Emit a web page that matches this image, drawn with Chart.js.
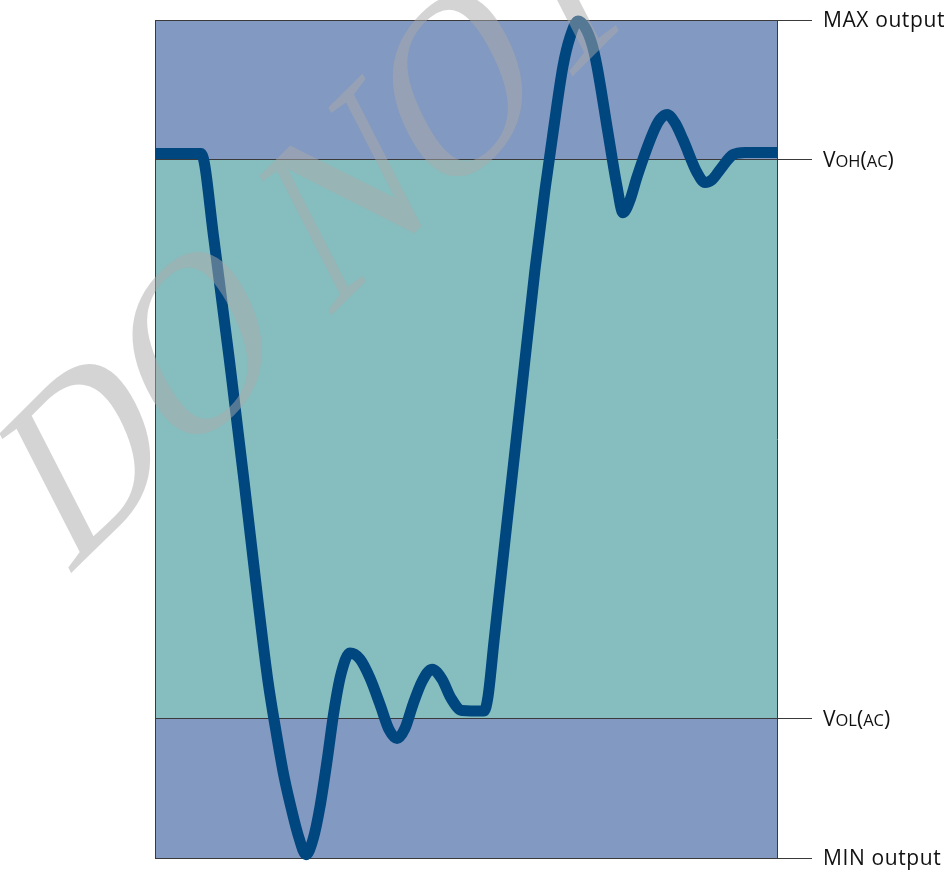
<!DOCTYPE html>
<html>
<head>
<meta charset="utf-8">
<script src="https://cdn.jsdelivr.net/npm/chart.js@4.4.1/dist/chart.umd.min.js"></script>
<style>
  html, body { margin: 0; padding: 0; background: #fff; }
  canvas { display: block; }
</style>
</head>
<body>
<canvas id="myChart" width="951" height="871"></canvas>
<script>
// time in % of the window, output normalised so VOL(AC) = 0 and VOH(AC) = 1
const times = [0, 7.40, 9.49, 12.22, 14.31, 16.56, 18.17, 19.45, 20.74, 22.03,
  23.15, 24.28, 25.40, 26.53, 27.65, 28.78, 29.90, 31.35, 32.96, 34.57,
  36.17, 37.62, 38.91, 40.19, 41.48, 42.93, 44.53, 46.14, 47.59, 49.36,
  52.89, 53.54, 54.50, 56.27, 58.68, 61.09, 62.70, 63.99, 65.59, 66.72,
  68.01, 69.13, 70.26, 71.06, 72.83, 74.28, 75.24, 76.37, 77.49, 80.06,
  81.19, 82.32, 83.60, 84.89, 87.14, 88.42, 89.55, 90.84, 92.93, 94.86,
  100]
const output = [1.011, 1.011, 0.856, 0.618, 0.425, 0.210, 0.066, -0.023, -0.104, -0.167,
  -0.214, -0.244, -0.217, -0.158, -0.077, 0.013, 0.079, 0.117, 0.106, 0.072,
  0.025, -0.020, -0.036, -0.018, 0.025, 0.066, 0.088, 0.070, 0.036, 0.014,
  0.013, 0.039, 0.138, 0.318, 0.560, 0.803, 0.946, 1.048, 1.167, 1.219,
  1.248, 1.237, 1.206, 1.167, 1.048, 0.952, 0.905, 0.928, 0.969, 1.048,
  1.072, 1.081, 1.066, 1.036, 0.977, 0.959, 0.964, 0.982, 1.009, 1.013,
  1.013]

// levels from bottom to top: MIN output, VOL(AC), VOH(AC), MAX output
const levels = [-0.25, 0, 1, 1.25]
const levelLabels = ['MIN output', 'Vol(ac)', 'Voh(ac)', 'MAX output']
const smallCaps = [false, true, true, false]
const bandColors = ['#8299C1', '#86BEBF', '#8299C1']

const wmText = 'DO NOT COPY'

const ctx = document.getElementById('myChart').getContext('2d')

const bands = {
  id: 'bands',
  beforeDraw(chart) {
    const c = chart.ctx
    const a = chart.chartArea
    const y = chart.scales.y
    c.save()
    for (let i = 0; i < bandColors.length; i++) {
      const top = y.getPixelForValue(levels[i + 1])
      const bot = y.getPixelForValue(levels[i])
      c.fillStyle = bandColors[i]
      c.fillRect(a.left, top, a.right - a.left, bot - top)
    }
    c.strokeStyle = '#3a3a3a'
    c.lineWidth = 1
    c.beginPath()
    c.moveTo(a.left + 0.5, a.top)
    c.lineTo(a.left + 0.5, a.bottom)
    c.stroke()
    c.restore()
  }
}

const levelText = {
  id: 'levelText',
  afterDraw(chart) {
    const c = chart.ctx
    const y = chart.scales.y
    const x0 = chart.chartArea.right + 35 + 11
    const big = 21, small = 16.5
    c.save()
    c.fillStyle = '#111'
    c.textAlign = 'left'
    c.textBaseline = 'alphabetic'
    levels.forEach((v, i) => {
      const py = y.getPixelForValue(v) + big * 0.714 / 2
      const txt = levelLabels[i]
      if (!smallCaps[i]) {
        c.font = big + 'px "Open Sans"'
        c.letterSpacing = '0.6px'
        c.fillText(txt, x0, py)
        return
      }
      c.letterSpacing = '0px'
      let x = x0
      for (const ch of txt) {
        const low = ch !== ch.toUpperCase()
        c.font = (low ? small : big) + 'px "Open Sans"'
        const s = ch.toUpperCase()
        c.fillText(s, x, py)
        x += c.measureText(s).width
      }
    })
    c.restore()
  }
}

// diagonal "DO NOT COPY" stamp, rotated then squeezed sideways
const watermark = {
  id: 'watermark',
  afterDraw(chart) {
    const c = chart.ctx
    const size = 262
    c.save()
    c.fillStyle = 'rgba(169,169,169,0.5)'
    c.font = size + 'px "Liberation Serif"'
    c.textAlign = 'left'
    c.textBaseline = 'alphabetic'
    const half = c.measureText('D').width / 2
    c.translate(86, 452)
    c.scale(0.72, 1)
    c.rotate(-35.5 * Math.PI / 180)
    c.fillText(wmText, -half, size * 0.662 / 2)
    c.restore()
  }
}

const data = {
  datasets: [{
    label: 'Output',
    data: times.map((t, i) => ({ x: t, y: output[i] })),
    borderColor: '#00467F',
    backgroundColor: '#00467F',
    borderWidth: 11,
    pointRadius: 0,
    fill: false,
    clip: false,
    cubicInterpolationMode: 'monotone',
    borderJoinStyle: 'round'
  }]
}

const config = {
  type: 'line',
  data: data,
  options: {
    responsive: false,
    animation: false,
    layout: { padding: { left: 155, top: 20, right: 139, bottom: 13 } },
    plugins: { legend: { display: false }, tooltip: { enabled: false } },
    scales: {
      x: { type: 'linear', min: 0, max: 100, display: false },
      y: {
        type: 'linear',
        position: 'right',
        min: levels[0],
        max: levels[levels.length - 1],
        afterBuildTicks: s => { s.ticks = levels.map(v => ({ value: v })) },
        ticks: { display: false },
        grid: { color: '#3a3a3a', lineWidth: 1, tickLength: 35 },
        border: { display: true, color: '#3a3a3a', width: 1 }
      }
    }
  },
  plugins: [bands, levelText, watermark]
}

const myChart = new Chart(ctx, config)
</script>
</body>
</html>
